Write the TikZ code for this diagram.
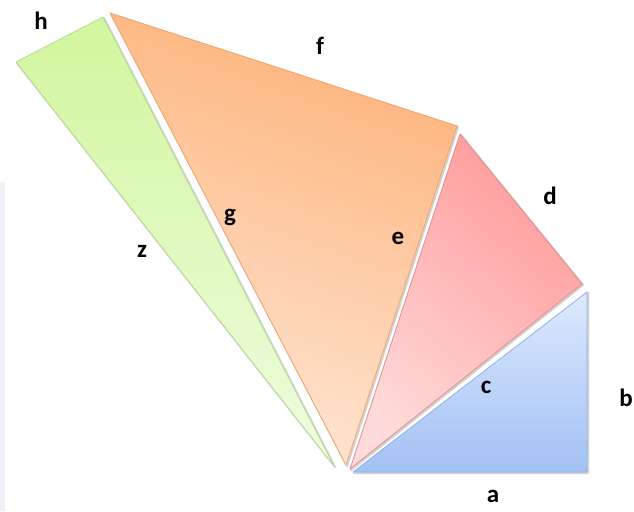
\documentclass[tikz,border=0pt]{standalone}
\usepackage{fontspec}
\setmainfont{Carlito}
\definecolor{bluetop}{HTML}{DDE9FD}
\definecolor{bluebot}{HTML}{A3C1F5}
\definecolor{blueedge}{HTML}{8FB0E6}
\definecolor{redtop}{HTML}{FF9B9B}
\definecolor{redbot}{HTML}{FFDADA}
\definecolor{rededge}{HTML}{E58A8A}
\definecolor{orgtop}{HTML}{FDB37A}
\definecolor{orgbot}{HTML}{FFE6D4}
\definecolor{orgedge}{HTML}{F0A56C}
\definecolor{grntop}{HTML}{D2F69E}
\definecolor{grnbot}{HTML}{F0FCE0}
\definecolor{grnedge}{HTML}{B5DC92}
\definecolor{strip}{HTML}{EEF2F6}
\tikzset{
  tri/.style={line width=0.8pt, line join=round},
  shadowtri/.style={draw=black!30, line width=2pt, line join=round, opacity=0.6},
  lbl/.style={font=\bfseries\fontsize{25}{25}\selectfont, text=black, inner sep=0pt}
}
\begin{document}
\begin{tikzpicture}[x=1pt,y=-1pt]
\useasboundingbox (0,0) rectangle (634,511);
\fill[strip] (0,182) rectangle (5,511);
% vertices
\coordinate (gA) at (16,62);
\coordinate (gB) at (103,17);
\coordinate (gC) at (334,466);
\coordinate (oA) at (110,13);
\coordinate (oB) at (457,126);
\coordinate (oC) at (346,465);
\coordinate (rA) at (460,134);
\coordinate (rB) at (582,284);
\coordinate (rC) at (350,469);
\coordinate (bA) at (353,472);
\coordinate (bB) at (587,472);
\coordinate (bC) at (587,292);
% shadows
\draw[shadowtri] ([shift={(1,1)}]gA) -- ([shift={(1,1)}]gB) -- ([shift={(1,1)}]gC) -- cycle;
\draw[shadowtri] ([shift={(1,1)}]oA) -- ([shift={(1,1)}]oB) -- ([shift={(1,1)}]oC) -- cycle;
\draw[shadowtri] ([shift={(1,1)}]rA) -- ([shift={(1,1)}]rB) -- ([shift={(1,1)}]rC) -- cycle;
\draw[shadowtri] ([shift={(1,1)}]bA) -- ([shift={(1,1)}]bB) -- ([shift={(1,1)}]bC) -- cycle;
% triangles
\shade[tri, draw=grnedge, top color=grntop, bottom color=grnbot] (gA) -- (gB) -- (gC) -- cycle;
\shade[tri, draw=orgedge, top color=orgtop, bottom color=orgbot, shading angle=-20] (oA) -- (oB) -- (oC) -- cycle;
\shade[tri, draw=rededge, top color=redtop, bottom color=redbot, shading angle=-40] (rA) -- (rB) -- (rC) -- cycle;
\shade[tri, draw=blueedge, top color=bluetop, bottom color=bluebot] (bA) -- (bB) -- (bC) -- cycle;
% labels
\node[lbl] (h) at (41,21) {h};
\node[lbl] (f) at (320,46) {f};
\node[lbl] (d) at (550,196) {d};
\node[lbl] (g) at (230,217) {g};
\node[lbl] (e) at (398,238) {e};
\node[lbl] (z) at (142,251) {z};
\node[lbl] (c) at (486,387) {c};
\node[lbl] (b) at (626,398) {b};
\node[lbl] (a) at (493,496) {a};
\end{tikzpicture}
\end{document}
